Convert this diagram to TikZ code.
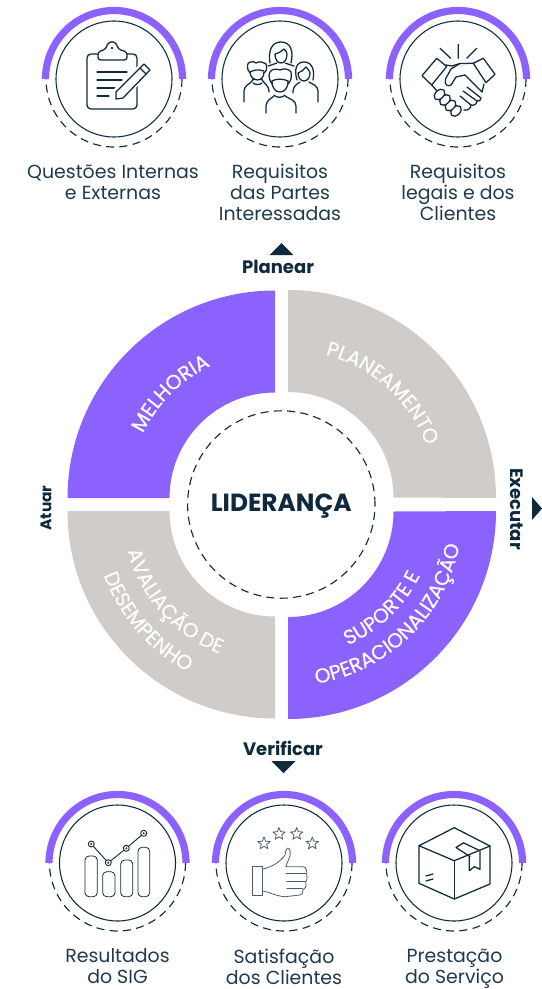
\documentclass[tikz,border=0pt]{standalone}
\usepackage{fontspec}
\usetikzlibrary{decorations.text}
\setmainfont{Poppins}
\newfontfamily\sectfont[FakeBold=0.25]{Poppins}
\definecolor{brand}{HTML}{8C62FF}
\definecolor{stone}{HTML}{CFCCC9}
\definecolor{ink}{HTML}{0F2A3D}
\definecolor{txt}{HTML}{1F3A4D}
\definecolor{iconthin}{HTML}{4A5F6E}
\tikzset{
  ringband/.style={draw=brand,line width=5.4pt},
  ringdash/.style={draw=ink,line width=0.85pt,dash pattern=on 6pt off 4pt},
  ringin/.style={draw=ink,line width=0.8pt},
  ico/.style={draw=ink,line width=0.95pt,line join=round,line cap=round},
  icothin/.style={draw=iconthin,line width=0.6pt,line join=round,line cap=round},
  caption/.style={text=txt,font=\fontsize{14.2pt}{15.8pt}\selectfont,align=center,inner sep=0pt},
  axislabel/.style={text=ink,font=\bfseries\fontsize{13.5pt}{15pt}\selectfont,inner sep=0pt},
  tri/.style={fill=ink,draw=none}
}
\newcommand{\secttext}{\sectfont\fontsize{15.2pt}{18pt}\selectfont\color{white}}
% centre x, centre y, radius, start angle, end angle, text
\newcommand{\arctext}[6]{%
  \path[decorate,decoration={text along path,text align=center,text={|\secttext|#6}}]
    (#1,#2) ++(#4:#3) arc[start angle=#4,end angle=#5,radius=#3];
}
\newcommand{\ringat}[2]{%
  \draw[ringdash] (#1,#2)+(0:68) arc[start angle=0,end angle=-180,radius=68];
  \draw[ringin] (#1,#2) circle[radius=58];
  \draw[ringband] (#1,#2)+(0:68.5) arc[start angle=0,end angle=180,radius=68.5];
}
\newcommand{\starat}[2]{%
  \draw[icothin] (#1,#2)
   +(90:6.5) -- +(126:2.8) -- +(162:6.5) -- +(198:2.8) -- +(234:6.5) -- +(270:2.8)
   -- +(306:6.5) -- +(342:2.8) -- +(18:6.5) -- +(54:2.8) -- cycle;
}
\newcommand{\knuckle}[2]{%
  \draw[ico,fill=white,rotate around={45:(#1,#2)}] (#1,#2) ellipse[x radius=6.2,y radius=4.2];
}
\begin{document}
\begin{tikzpicture}[x=0.75pt,y=0.75pt]
\useasboundingbox (0,0) rectangle (542,-989);

% rings
\ringat{114}{-79}\ringat{280}{-79}\ringat{458}{-79}
\ringat{117.5}{-863}\ringat{284}{-863}\ringat{454}{-863}

% captions
\node[caption] (c1) at (113,-182) {Questões Internas\\e Externas};
\node[caption] (c2) at (280,-192) {Requisitos\\das Partes\\Interessadas};
\node[caption] (c3) at (458,-192) {Requisitos\\legais e dos\\Clientes};
\node[caption] (c4) at (117.5,-966.5) {Resultados\\do SIG};
\node[caption] (c5) at (284,-966.5) {Satisfação\\dos Clientes};
\node[caption] (c6) at (454.5,-969) {Prestação\\do Serviço};

% icon 1 clipboard
\draw[ico,rounded corners=3pt] (98,-54) -- (87,-54) -- (87,-109) -- (137,-109) -- (137,-54) -- (127,-54);
\draw[ico,rounded corners=2pt] (98,-60) -- (98,-52) -- (106,-49) -- (107,-44) -- (112,-41) -- (117,-44) -- (118,-49) -- (127,-52) -- (127,-60) -- cycle;
\fill[ink] (112,-48) circle[radius=1.3];
\draw[ico] (97,-72) -- (127,-72) (97,-80) -- (122,-80) (97,-88) -- (115,-88) (97,-96) -- (109,-96);
\fill[white] (113,-90) -- (144,-60) -- (153,-70) -- (122,-102) -- cycle;
\draw[ico,fill=white] (116,-92) -- (144,-64) -- (150,-70) -- (123,-98) -- (116,-99) -- cycle;
\draw[ico] (140,-68) -- (146,-74);

% icon 2 people
\draw[ico] (270,-63) .. controls (268,-50) and (272,-42) .. (281,-42) .. controls (290,-42) and (294,-50) .. (291,-63);
\draw[ico] (275,-54) .. controls (279,-53) and (282,-51) .. (284,-49) .. controls (286,-51) and (287,-52) .. (287,-54) .. controls (287,-60) and (284,-63) .. (281,-63) .. controls (278,-63) and (275,-60) .. (275,-54);
\draw[ico] (268,-66) -- (277,-63) (285,-63) -- (294,-66);
% left man
\draw[ico] (250,-73) .. controls (246,-68) and (247,-63) .. (250,-62) .. controls (253,-61) and (254,-62) .. (256,-63) .. controls (259,-61) and (263,-62) .. (266,-64) .. controls (267,-68) and (267,-71) .. (264,-73);
\draw[ico] (250,-72) .. controls (254,-70) and (258,-69) .. (264,-71);
\draw[ico] (250,-72) .. controls (250,-77) and (254,-80) .. (257.5,-80) .. controls (261,-80) and (264,-77) .. (264,-72);
\draw[ico,rounded corners=3pt] (244,-102) -- (244,-87) -- (252,-82) -- (253,-80) (262,-80) -- (263,-82) -- (269,-87) -- (269,-92);
\draw[ico] (253,-83) .. controls (255,-85) and (260,-85) .. (262,-83);
% right woman
\draw[ico] (297,-80) .. controls (294,-70) and (296,-62) .. (304,-62) .. controls (312,-62) and (315,-70) .. (313,-80);
\draw[ico] (298,-73) .. controls (301,-72) and (304,-70) .. (306,-67) .. controls (308,-69) and (310,-72) .. (310,-73) .. controls (310,-78) and (307,-81) .. (304,-81) .. controls (301,-81) and (298,-78) .. (298,-73);
\draw[ico,rounded corners=3pt] (293,-93) -- (293,-87) -- (300,-82) (309,-82) -- (318,-87) -- (318,-102);
% centre man, on top
\fill[white] (270,-68) rectangle (291,-94);
\draw[ico] (272,-84) .. controls (268,-78) and (268,-72) .. (272,-70) .. controls (276,-68) and (278,-70) .. (280,-70) .. controls (284,-68) and (289,-69) .. (291,-72) .. controls (292,-77) and (291,-81) .. (288,-84);
\draw[ico] (272,-81) .. controls (276,-79) and (281,-78) .. (288,-81);
\draw[ico] (272,-81) .. controls (272,-89) and (276,-92) .. (280,-92) .. controls (284,-92) and (288,-89) .. (288,-81);
\draw[ico,rounded corners=3pt] (266,-113) -- (266,-102) -- (274,-96) (285,-96) -- (296,-102) -- (296,-113);
\draw[ico] (274,-95) .. controls (276,-98) and (283,-98) .. (285,-95);

% icon 3 handshake
\draw[ico] (422,-75.7) -- (436.7,-58.3) -- (446.7,-66.5) -- (431.7,-85) -- cycle;
\draw[ico] (473.3,-63.3) -- (483.3,-58.3) -- (495,-74.3) -- (486,-82.7) -- cycle;
\draw[ico] (446,-65) -- (452,-66) -- (460,-63.5) -- (473.3,-63.3);
\draw[ico] (460,-63.5) -- (451,-69) -- (445.5,-79) .. controls (444,-85) and (448,-87) .. (451,-85) -- (456,-77) -- (465,-75) -- (482,-92) -- (484,-84);
\draw[ico] (431.7,-85) -- (437,-91);
\draw[ico] (467,-87) -- (481,-98) .. controls (481,-100) and (479,-102) .. (477,-101) -- (463,-91);
\draw[ico] (477,-101) .. controls (477,-104) and (474,-106) .. (471,-105) -- (460,-96);
\draw[ico] (471,-105) .. controls (471,-108) and (468,-111) .. (464,-110);
\knuckle{456}{-111}\knuckle{450.5}{-105.5}\knuckle{445}{-100}\knuckle{439.5}{-94.5}
\draw[ico] (440,-48.3) -- (450.7,-58.3) (458.3,-44.3) -- (458.3,-58.3) (476.7,-48.3) -- (466.7,-58.3);

% icon 4 chart
\foreach \xa/\xb/\ya in {85/97.3/856,102.7/115/871.7,120.7/132.7/860,138/149.7/847.3}{
  \draw[ico,line width=0.6pt,rounded corners=3pt] (\xa,-\ya) rectangle (\xb,-896.7);
}
\draw[ico,line width=0.7pt] (91.3,-844) -- (108.3,-862.7) -- (126.3,-848.3) -- (143.7,-833.3);
\foreach \px/\py in {91.3/844,108.3/862.7,126.3/848.3,143.7/833.3}{
  \draw[ico,line width=0.7pt,fill=white] (\px,-\py) circle[radius=3];
  \fill[ink] (\px,-\py) circle[radius=1.1];
}

% icon 5 thumb
\draw[icothin] (252.7,-866.7) rectangle (262.7,-895);
\draw[icothin] (262.7,-869) .. controls (272,-867) and (280,-862) .. (285,-855) -- (286,-850) .. controls (288,-846) and (291,-848) .. (290,-856) -- (285.7,-866.7) -- (303,-866.7) .. controls (307,-867) and (307,-872) .. (306.7,-875) .. controls (308,-879) and (306,-881) .. (305.7,-882) .. controls (307,-885) and (305,-889) .. (303,-890) .. controls (303,-893) and (302,-895) .. (300,-895) -- (285,-896.7) .. controls (275,-896) and (270,-892) .. (262.7,-891);
\draw[icothin] (285.7,-873.5) -- (306,-873.5) (286.7,-881) -- (305.7,-881) (286.7,-888) -- (303,-888);
\starat{264}{-843.5}\starat{279}{-834}\starat{296.7}{-834}\starat{312.3}{-843.5}

% icon 6 box
\draw[ico] (419,-845.7) -- (454.3,-827.7) -- (490,-846) -- (454.3,-860.7) -- cycle;
\draw[ico] (419,-845.7) -- (419,-883.3) -- (454.3,-899) -- (490,-884) -- (490,-846);
\draw[ico] (454.3,-860.7) -- (454.3,-899);
\draw[ico] (470,-856.5) -- (456,-847.5) -- (463.5,-842.8) -- (479.5,-850.5);
\draw[ico] (469.3,-856) -- (469.3,-870.7) -- (474.3,-866.7) -- (480,-869.3) -- (480,-851);
\draw[ico] (426,-876) -- (433,-874) (426,-881) -- (433,-879);

% donut quadrants (each quarter annulus about its own corner)
\fill[brand] (275,-498) ++(180:207.5) arc[start angle=180,end angle=90,radius=207.5] -- ++(0,-102) arc[start angle=90,end angle=180,radius=105.5] -- cycle;
\fill[stone] (288,-498) ++(0:208) arc[start angle=0,end angle=90,radius=208] -- ++(0,-102) arc[start angle=90,end angle=0,radius=105.5] -- cycle;
\fill[brand] (288,-511) ++(0:208) arc[start angle=0,end angle=-90,radius=208] -- ++(0,102) arc[start angle=-90,end angle=0,radius=105.5] -- cycle;
\fill[stone] (275,-511) ++(180:207.5) arc[start angle=180,end angle=270,radius=207.5] -- ++(0,102) arc[start angle=270,end angle=180,radius=105.5] -- cycle;

% sector labels, set along arcs
\arctext{275}{-498}{147}{205}{65}{MELHORIA}
\arctext{288}{-498}{148}{118}{-22}{PLANEAMENTO}
\arctext{288}{-511}{147}{-116}{24}{SUPORTE E}
\arctext{288}{-511}{175}{-106}{14}{OPERACIONALIZAÇÃO}
\arctext{275}{-511}{153}{152}{292}{AVALIAÇÃO DE}
\arctext{275}{-511}{183}{161}{281}{DESEMPENHO}

% centre
\draw[ringdash] (281.3,-504.5) circle[radius=93.7];
\node[text=ink,inner sep=0pt,font=\fontsize{18.6pt}{22pt}\selectfont\bfseries] (lider) at (281.3,-506) {LIDERANÇA};

% axis labels and triangles
\node[axislabel] (planear) at (278,-267) {Planear};
\node[axislabel] (verificar) at (283,-748) {Verificar};
\node[axislabel,font=\bfseries\fontsize{11.6pt}{14pt}\selectfont,rotate=90] (atuar) at (46,-508) {Atuar};
\node[axislabel,rotate=-90] (executar) at (517,-509) {Executar};
\fill[tri] (269.5,-255) -- (281.5,-243) -- (293.5,-255) -- cycle;
\fill[tri] (271.5,-761) -- (295.5,-761) -- (283.5,-773) -- cycle;
\fill[tri] (532,-497) -- (542,-508.5) -- (532,-520) -- cycle;
\end{tikzpicture}
\end{document}
